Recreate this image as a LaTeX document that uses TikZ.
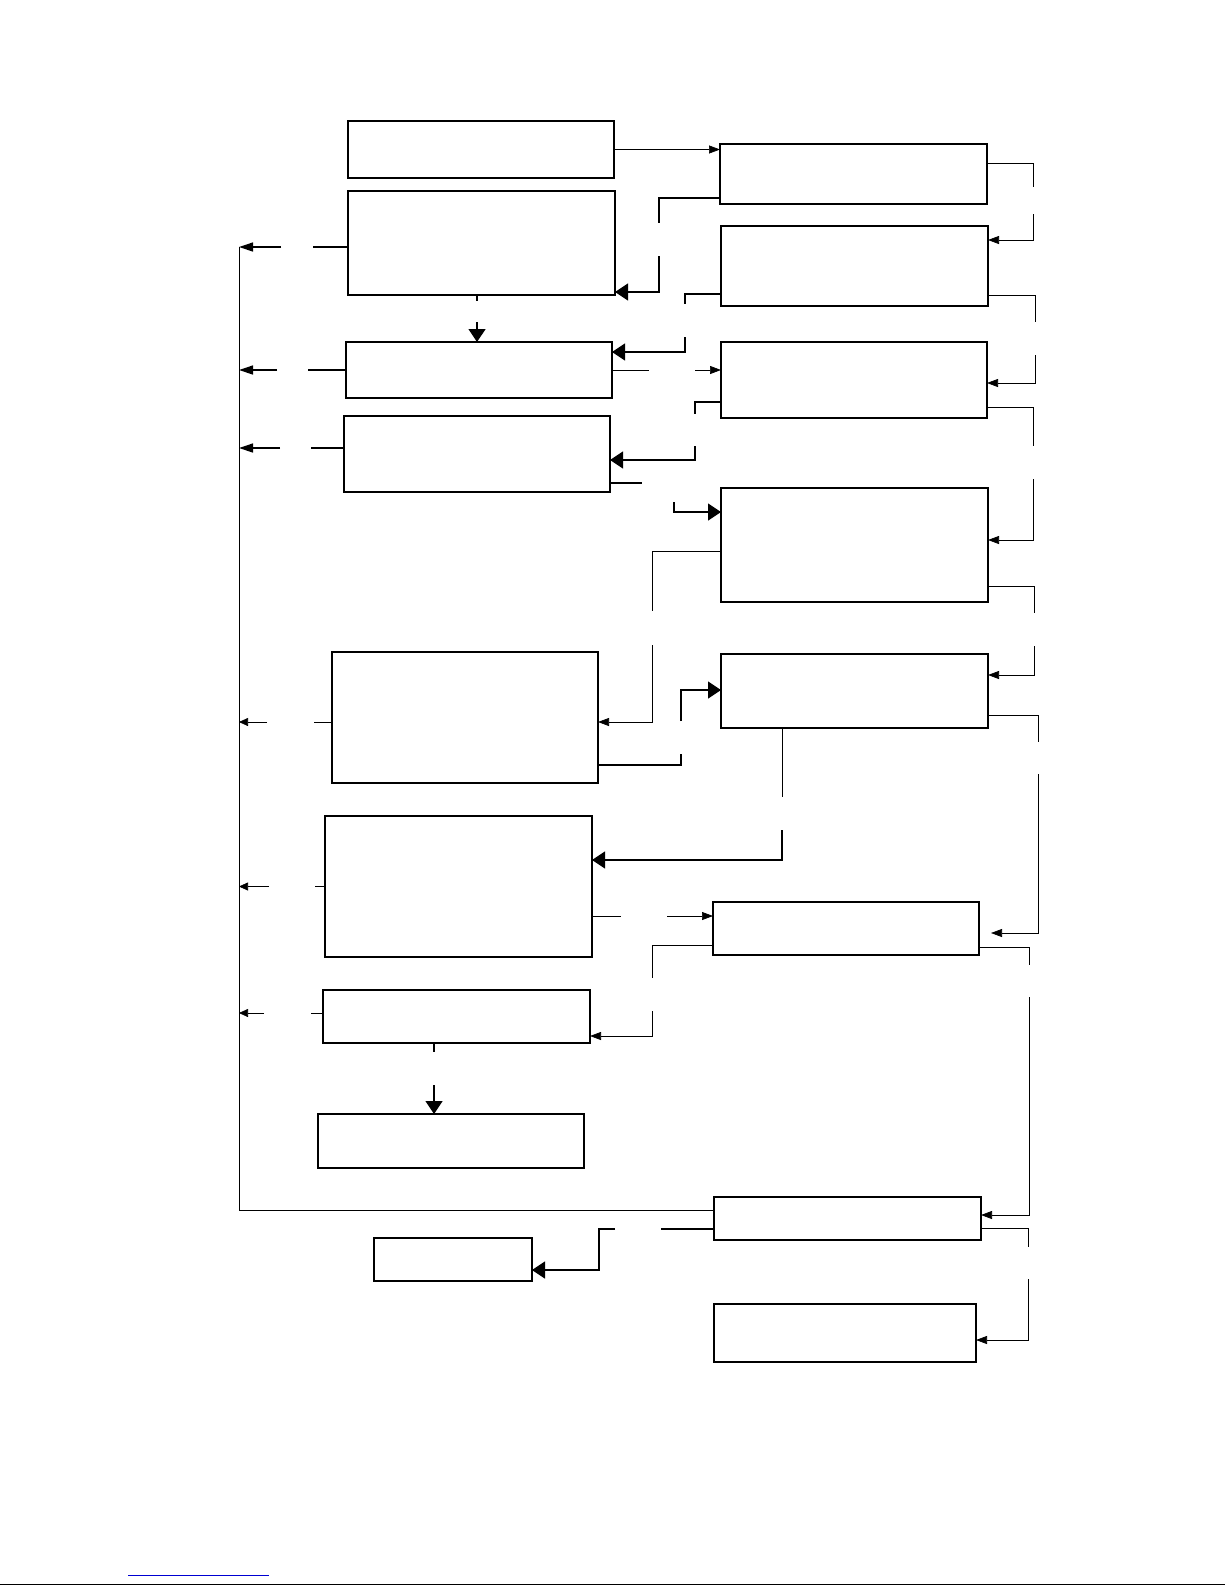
\documentclass[tikz,border=0pt]{standalone}
\usepackage{tikz}
\usetikzlibrary{arrows.meta, calc}
\definecolor{linkblue}{RGB}{0,0,210}

\begin{document}
\begin{tikzpicture}[
    x=1pt, y=-1pt,
    box/.style={draw, rectangle, line width=1.3pt, inner sep=0pt, outer sep=0pt, anchor=north west},
    thinline/.style={line width=0.7pt},
    thickline/.style={line width=1.3pt},
    smallarrow/.style={thinline, -{Triangle[length=11pt, width=8pt]}},
    busarrow/.style={thickline, -{Triangle[length=14pt, width=9pt]}},
    thinbusarrow/.style={thinline, -{Triangle[length=9pt, width=8pt]}},
    bigarrow/.style={thickline, -{Triangle[length=13pt, width=17pt]}},
]
\useasboundingbox (0,0) rectangle (1225,1585);

% Left column
\node[box, minimum width=266pt, minimum height=57pt]  (left1) at (348,121) {};
\node[box, minimum width=267pt, minimum height=104pt] (left2) at (348,191) {};
\node[box, minimum width=266pt, minimum height=56pt]  (left3) at (346,342) {};
\node[box, minimum width=266pt, minimum height=76pt]  (left4) at (344,416) {};
\node[box, minimum width=266pt, minimum height=131pt] (left5) at (332,652) {};
\node[box, minimum width=267pt, minimum height=141pt] (left6) at (325,816) {};
\node[box, minimum width=267pt, minimum height=53pt]  (left7) at (323,990) {};
\node[box, minimum width=266pt, minimum height=54pt]  (left8) at (318,1114) {};
\node[box, minimum width=158pt, minimum height=43pt]  (exit)  at (374,1238) {};

% Right column
\node[box, minimum width=267pt, minimum height=60pt]  (right1) at (720,144) {};
\node[box, minimum width=267pt, minimum height=80pt]  (right2) at (721,226) {};
\node[box, minimum width=266pt, minimum height=76pt]  (right3) at (721,342) {};
\node[box, minimum width=267pt, minimum height=114pt] (right4) at (721,488) {};
\node[box, minimum width=267pt, minimum height=74pt]  (right5) at (721,654) {};
\node[box, minimum width=266pt, minimum height=53pt]  (right6) at (713,902) {};
\node[box, minimum width=267pt, minimum height=43pt]  (right7) at (714,1197) {};
\node[box, minimum width=262pt, minimum height=58pt]  (right8) at (714,1304) {};

% Bus on the left
\coordinate (bus) at (239,247);
\draw[thinline] (bus) |- ($(right7.north west)+(0,13)$);

% Arrows to the bus
\draw[thickline] ($(left2.north west)+(0,56)$) -- ++(-35,0);
\draw[busarrow] ($(left2.north west)+(-67,56)$) coordinate (b2) -- (bus |- b2);
\draw[thickline] (left3.west) -- ++(-38,0);
\draw[busarrow] ($(left3.west)+(-69,0)$) coordinate (b3) -- (bus |- b3);
\draw[thickline] ($(left4.north west)+(0,32)$) -- ++(-33,0);
\draw[busarrow] ($(left4.north west)+(-64,32)$) coordinate (b4) -- (bus |- b4);
\draw[thinline] ($(left5.north west)+(0,70)$) -- ++(-18,0);
\draw[thinbusarrow] ($(left5.north west)+(-65,70)$) coordinate (b5) -- (bus |- b5);
\draw[thinline] (left6.west) -- ++(-10,0);
\draw[thinbusarrow] ($(left6.west)+(-56,0)$) coordinate (b6) -- (bus |- b6);
\draw[thinline] ($(left7.north west)+(0,23)$) -- ++(-12,0);
\draw[thinbusarrow] ($(left7.north west)+(-59,23)$) coordinate (b7) -- (bus |- b7);

% Left column downward
\draw[thickline] ($(left2.south west)+(129,0)$) -- ++(0,6);
\draw[bigarrow] ($(left3.north west)+(131,-20)$) -- ($(left3.north west)+(131,0)$);
\draw[thickline] ($(left7.south west)+(111,0)$) -- ++(0,9);
\draw[bigarrow] ($(left8.north west)+(116,-29)$) -- ($(left8.north west)+(116,0)$);

% Between the columns
\draw[smallarrow] (left1.east) -- (left1.east -| right1.west);
\draw[thickline] ($(right1.south west)+(0,-6)$) -| ++(-61,25);
\draw[bigarrow] ($(left2.south east)+(44,-39)$) |- ($(left2.south east)+(0,-3)$);
\draw[thickline] ($(right2.south west)+(0,-12)$) -| ++(-36,10);
\draw[bigarrow] ($(left3.north east)+(73,-5)$) |- ($(left3.north east)+(0,10)$);
\draw[thinline] (left3.east) -- ++(37,0);
\draw[smallarrow] ($(left3.east)+(83,0)$) -- (left3.east -| right3.west);
\draw[thickline] ($(right3.south west)+(0,-16)$) -| ++(-26,12);
\draw[bigarrow] ($(left4.north east)+(85,30)$) |- ($(left4.north east)+(0,44)$);
\draw[thickline] ($(left4.south east)+(0,-9)$) -- ++(32,0);
\draw[bigarrow] ($(right4.north west)+(-47,14)$) |- ($(right4.north west)+(0,24)$);
\draw[thinline] ($(right4.north west)+(0,63)$) -| ++(-69,60);
\draw[smallarrow] ($(left5.north east)+(54,-7)$) |- ($(left5.north east)+(0,70)$);
\draw[thickline] ($(left5.south east)+(0,-18)$) -| ++(83,-11);
\draw[bigarrow] ($(right5.north west)+(-40,67)$) |- ($(right5.north west)+(0,36)$);
\draw[thinline] ($(right5.south west)+(61,0)$) -- ++(0,69);
\draw[bigarrow] ($(left6.north east)+(190,14)$) |- ($(left6.north east)+(0,44)$);
\draw[thinline] ($(left6.south east)+(0,-41)$) -- ++(29,0);
\draw[smallarrow] ($(right6.north west)+(-46,14)$) -- ($(right6.north west)+(0,14)$);
\draw[thinline] ($(right6.south west)+(0,-10)$) -| ++(-61,33);
\draw[smallarrow] ($(left7.south east)+(62,-32)$) |- ($(left7.south east)+(0,-7)$);
\draw[thickline] ($(right7.south west)+(0,-11)$) -- ++(-53,0);
\draw[bigarrow] ($(right7.south west)+(-99,-11)$) -- ++(-16,0) |- ($(exit.south east)+(0,-11)$);

% Right side feedback
\draw[thinline] ($(right1.north east)+(0,19)$) -| ++(46,24);
\draw[smallarrow] ($(right2.north east)+(45,-12)$) |- ($(right2.north east)+(0,14)$);
\draw[thinline] ($(right2.south east)+(0,-11)$) -| ++(47,27);
\draw[smallarrow] ($(right3.north east)+(48,13)$) |- ($(right3.north east)+(0,41)$);
\draw[thinline] ($(right3.south east)+(0,-11)$) -| ++(46,39);
\draw[smallarrow] ($(right4.north east)+(45,-9)$) |- ($(right4.north east)+(0,52)$);
\draw[thinline] ($(right4.south east)+(0,-16)$) -| ++(46,27);
\draw[smallarrow] ($(right5.north east)+(46,-8)$) |- ($(right5.north east)+(0,21)$);
\draw[thinline] ($(right5.south east)+(0,-13)$) -| ++(50,27);
\draw[smallarrow, shorten >=12pt] ($(right6.north east)+(59,-128)$) |- ($(right6.north east)+(0,31)$);
\draw[thinline] ($(right6.south east)+(0,-8)$) -| ++(50,18);
\draw[smallarrow] ($(right7.north east)+(48,-200)$) |- ($(right7.north east)+(0,18)$);
\draw[thinline] ($(right7.south east)+(0,-12)$) -| ++(47,19);
\draw[smallarrow] ($(right8.north east)+(52,-25)$) |- ($(right8.north east)+(0,36)$);

% Page foot
\draw[linkblue, line width=1pt] (128,1575) -- (269,1575);
\draw[line width=1pt] (0,1584) -- (1225,1584);
\end{tikzpicture}
\end{document}
